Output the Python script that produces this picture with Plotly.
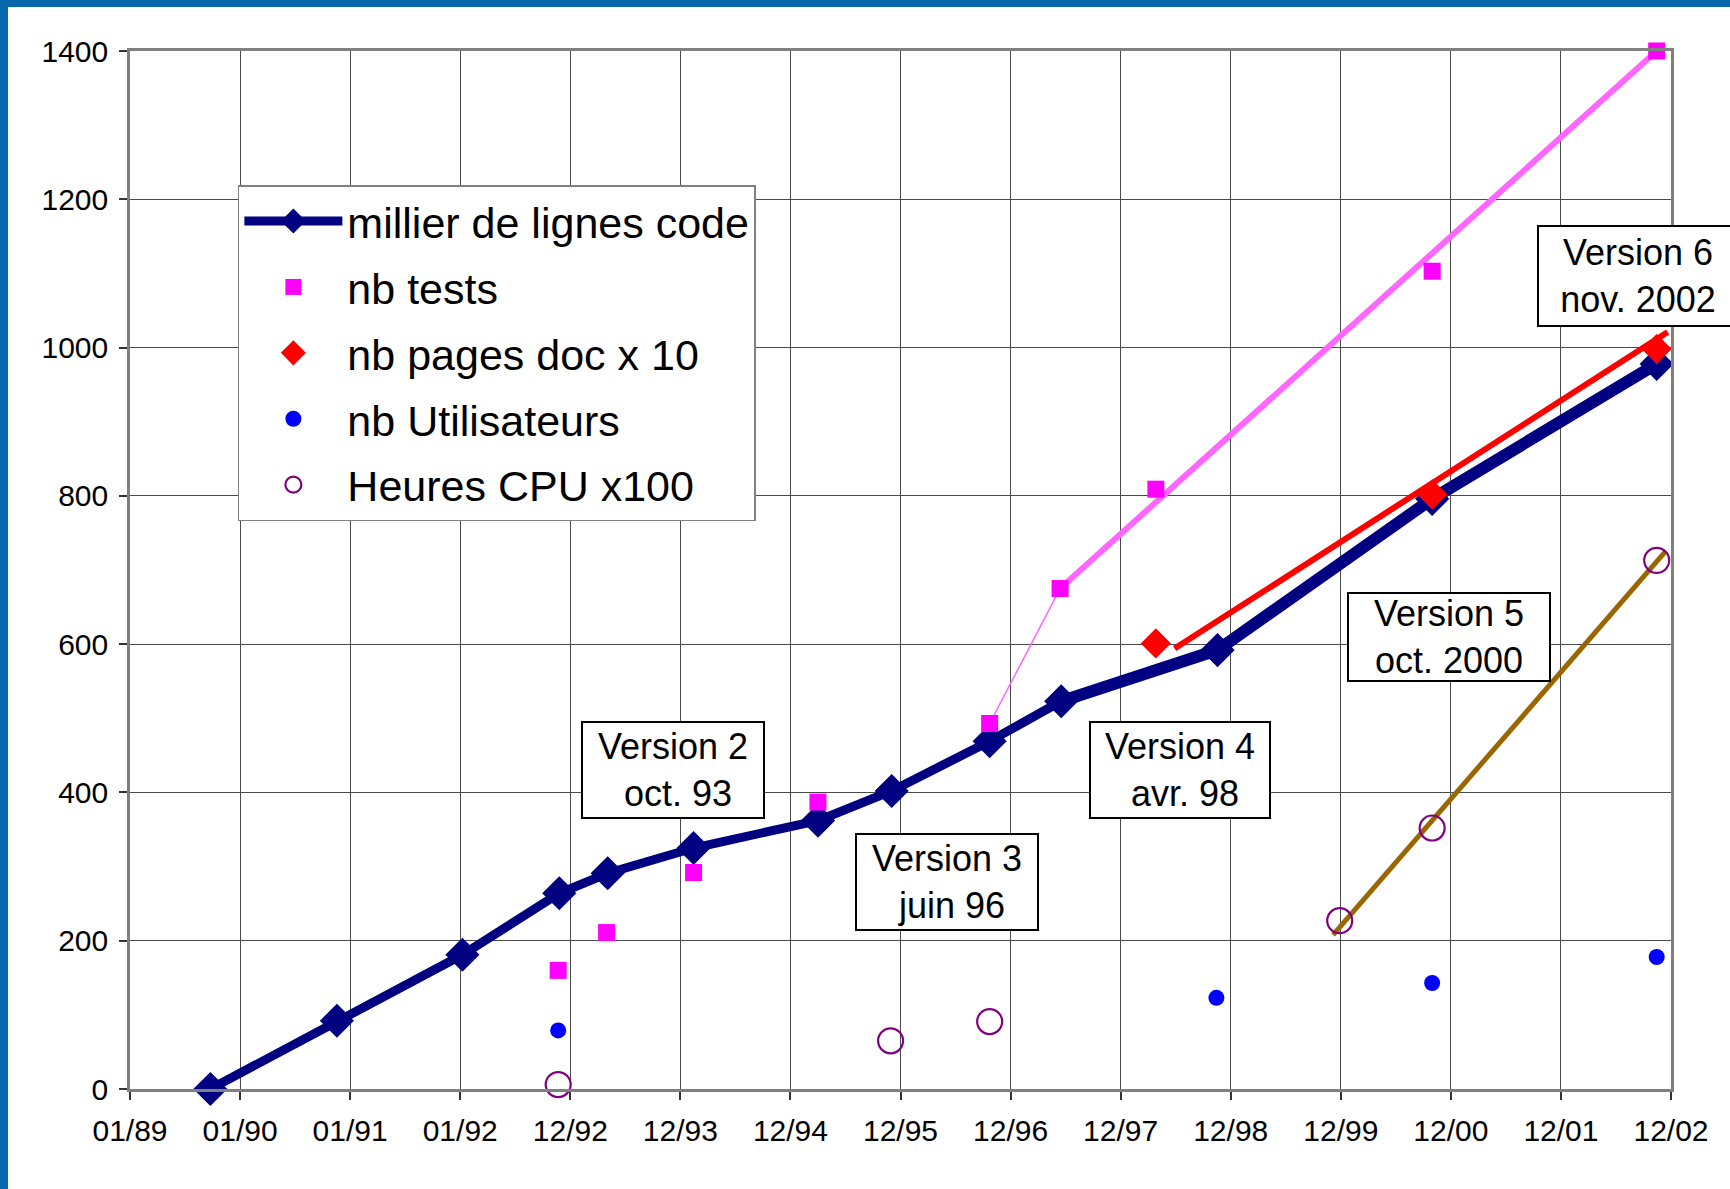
import plotly.graph_objects as go

# ---- data (x in tick-interval units: 0 = 01/89 ... 14 = 12/02) ----
tick_labels = ["01/89", "01/90", "01/91", "01/92", "12/92", "12/93", "12/94", "12/95",
               "12/96", "12/97", "12/98", "12/99", "12/00", "12/01", "12/02"]

code_x = [0.73, 1.88, 3.02, 3.90, 4.34, 5.12, 6.25, 6.92, 7.81, 8.46, 9.88, 11.83, 13.87]
code_y = [0, 92, 181, 264, 291, 325, 362, 402, 469, 523, 592, 796, 978]

tests_x = [3.89, 4.33, 5.12, 6.25, 7.81, 8.45, 9.32, 11.83, 13.87]
tests_y = [160, 211, 292, 387, 493, 675, 809, 1103, 1400]

doc_x = [9.32, 11.83, 13.87]
doc_y = [601, 802, 998]

users_x = [3.89, 9.87, 11.83, 13.87]
users_y = [79, 123, 143, 178]

cpu_x = [3.89, 6.91, 7.81, 10.99, 11.83, 13.87]
cpu_y = [6, 65, 91, 227, 352, 713]

# hand-drawn trend lines
tests_trend_x = [8.45, 13.87]
tests_trend_y = [675, 1400]
doc_trend_x = [9.49, 13.97]
doc_trend_y = [594, 1021]
cpu_trend_x = [10.93, 13.95]
cpu_trend_y = [208, 725]

versions = ["Version 2<br> oct. 93", "Version 3<br> juin 96", "Version 4<br> avr. 98",
            "Version 5<br>oct. 2000", "Version 6<br>nov. 2002"]
version_x = [4.93, 7.42, 9.54, 11.98, 13.70]
version_y = [430, 279, 430, 609, 1096]
version_w = [176, 176, 174, 196, 194]
version_h = [90, 90, 90, 82, 94]

FONT = "Liberation Sans, Arial, sans-serif"

fig = go.Figure()

# trend lines (no legend)
fig.add_trace(go.Scatter(x=tests_x[4:6], y=tests_y[4:6], mode="lines",
                         line=dict(color="#FF66FF", width=1.5), showlegend=False, hoverinfo="skip"))
fig.add_trace(go.Scatter(x=tests_trend_x, y=tests_trend_y, mode="lines",
                         line=dict(color="#FF66FF", width=6), showlegend=False, hoverinfo="skip"))
fig.add_trace(go.Scatter(x=doc_trend_x, y=doc_trend_y, mode="lines",
                         line=dict(color="#FF0000", width=6), showlegend=False, hoverinfo="skip"))
fig.add_trace(go.Scatter(x=cpu_trend_x, y=cpu_trend_y, mode="lines",
                         line=dict(color="#996600", width=5), showlegend=False, hoverinfo="skip"))

# main series
fig.add_trace(go.Scatter(x=code_x[9:], y=code_y[9:], mode="lines",
                         line=dict(color="#000080", width=12), showlegend=False,
                         hoverinfo="skip", cliponaxis=False))
fig.add_trace(go.Scatter(x=code_x, y=code_y, mode="lines+markers", name="millier de lignes code",
                         line=dict(color="#000080", width=9),
                         marker=dict(symbol="diamond", size=23, color="#000080",
                                     line=dict(width=3, color="#000080")),
                         cliponaxis=False, legendrank=1, legendgroup="a"))
fig.add_trace(go.Scatter(x=tests_x, y=tests_y, mode="markers", name="nb tests",
                         marker=dict(symbol="square", size=17, color="#FF00FF"),
                         cliponaxis=False, legendrank=2, legendgroup="b"))
fig.add_trace(go.Scatter(x=doc_x, y=doc_y, mode="markers", name="nb pages doc x 10",
                         marker=dict(symbol="diamond", size=20, color="#FF0000",
                                     line=dict(width=3, color="#FF0000")),
                         cliponaxis=False, legendrank=3, legendgroup="c"))
fig.add_trace(go.Scatter(x=users_x, y=users_y, mode="markers", name="nb Utilisateurs",
                         marker=dict(symbol="circle", size=16, color="#0000FF"),
                         cliponaxis=False, legendrank=4, legendgroup="d"))
fig.add_trace(go.Scatter(x=cpu_x, y=cpu_y, mode="markers", name="Heures CPU x100",
                         marker=dict(symbol="circle-open", size=25, color="#800080",
                                     line=dict(width=2.2, color="#800080")),
                         cliponaxis=False, legendrank=5, legendgroup="e"))

for txt, vx, vy, w, h in zip(versions, version_x, version_y, version_w, version_h):
    fig.add_annotation(x=vx, y=vy, xref="x", yref="y", text=txt, showarrow=False,
                       font=dict(family=FONT, size=36, color="black"),
                       align="center", bgcolor="white", bordercolor="black",
                       borderwidth=2, borderpad=2, width=w, height=h)

axis_common = dict(showgrid=True, gridcolor="#4a4a4a", gridwidth=1,
                   showline=True, linecolor="#808080", linewidth=2.5, mirror=True,
                   ticks="outside", ticklen=8, tickcolor="#333333", tickwidth=1.5,
                   ticklabelstandoff=5,
                   tickfont=dict(family=FONT, size=30, color="black"), zeroline=False)

L, R, T, B = 130, 59, 51, 100
W, H = 1730, 1189
pw, ph = W - L - R, H - T - B

fig.update_layout(
    width=W, height=H, autosize=False,
    margin=dict(l=L, r=R, t=T, b=B),
    paper_bgcolor="#0868AE", plot_bgcolor="white",
    font=dict(family=FONT, color="black"),
    xaxis=dict(range=[0, 14], tickvals=list(range(15)), ticktext=tick_labels, **axis_common),
    yaxis=dict(range=[0, 1400], tickvals=list(range(0, 1401, 200)), **axis_common),
    legend=dict(x=0.070, y=0.8708, xanchor="left", yanchor="top",
                bgcolor="white", bordercolor="#808080", borderwidth=1.5,
                font=dict(family=FONT, size=43, color="black"),
                itemwidth=98, tracegroupgap=7, traceorder="grouped"),
    shapes=[dict(type="rect", xref="paper", yref="paper",
                 x0=(8 - L) / pw, x1=(W - L + 5) / pw,
                 y0=-(B + 5) / ph, y1=(H - B - 7) / ph,
                 fillcolor="white", line=dict(width=0), layer="below")],
)

fig.write_html("out.html", config={"displayModeBar": False},
               post_script="document.body.style.margin='0px';")
